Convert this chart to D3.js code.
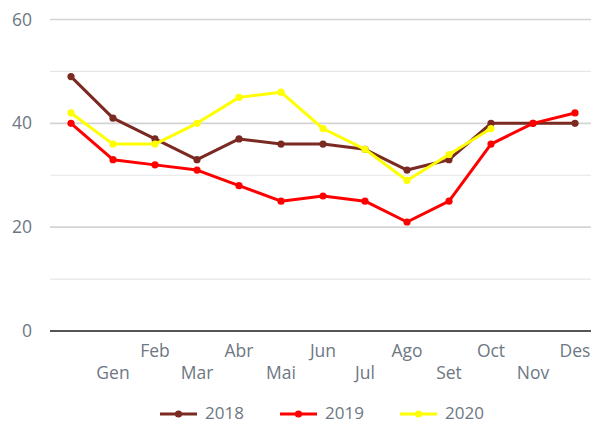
<!DOCTYPE html>
<html>
<head>
<meta charset="utf-8">
<script src="https://cdn.jsdelivr.net/npm/d3@7"></script>
<style>
  html, body { margin: 0; padding: 0; background: #ffffff; }
  svg { display: block; font-family: "Open Sans", sans-serif; }
</style>
</head>
<body>
<svg id="chart" width="591" height="424"></svg>
<script>
// Month labels (first slot carries no label)
const months = ["", "Gen", "Feb", "Mar", "Abr", "Mai", "Jun", "Jul", "Ago", "Set", "Oct", "Nov", "Des"];
const values2018 = [49, 41, 37, 33, 37, 36, 36, 35, 31, 33, 40, 40, 40];
const values2019 = [40, 33, 32, 31, 28, 25, 26, 25, 21, 25, 36, 40, 42];
const values2020 = [42, 36, 36, 40, 45, 46, 39, 35, 29, 34, 39, null, null];
const seriesNames = ["2018", "2019", "2020"];
const seriesColors = ["#7b2a22", "#ff0000", "#ffff00"];
const yTicks = [0, 20, 40, 60];
const yGrid = [0, 10, 20, 30, 40, 50, 60];

const series = [values2018, values2019, values2020].map((vals, i) => ({
  name: seriesNames[i], color: seriesColors[i], values: vals
}));

const svg = d3.select("#chart");
const margin = { left: 50, right: -5, top: 19.5, bottom: 93 };
const W = 591, H = 424;
const fontSize = "17.5px";
const textColor = "#6e7783";

const x = d3.scalePoint()
  .domain(d3.range(months.length))
  .range([margin.left, W - margin.right])
  .padding(0.5);

const y = d3.scaleLinear()
  .domain([0, 60])
  .range([H - margin.bottom, margin.top]);

// Horizontal grid
svg.append("g")
  .selectAll("line")
  .data(yGrid.filter(d => d !== 0))
  .join("line")
  .attr("x1", margin.left)
  .attr("x2", W)
  .attr("y1", d => y(d))
  .attr("y2", d => y(d))
  .attr("stroke", d => d % 20 === 0 ? "#d4d4d4" : "#e6e6e6")
  .attr("stroke-width", d => d % 20 === 0 ? 1.6 : 1.2);

// Y axis labels
const yAxis = d3.axisLeft(y).tickValues(yTicks).tickSize(0).tickPadding(18);
svg.append("g")
  .attr("transform", `translate(${margin.left},0)`)
  .call(yAxis)
  .call(g => g.select(".domain").remove())
  .call(g => g.selectAll("text")
    .attr("fill", textColor)
    .style("font-size", fontSize)
    .style("font-family", "'Open Sans', sans-serif"));

// Baseline
svg.append("line")
  .attr("x1", margin.left).attr("x2", W)
  .attr("y1", y(0)).attr("y2", y(0))
  .attr("stroke", "#555555").attr("stroke-width", 2);

// X axis month labels, staggered on two rows
svg.append("g")
  .selectAll("text")
  .data(months.slice(1).map((m, i) => ({ m, i: i + 1 })))
  .join("text")
  .attr("x", d => x(d.i - 1) + x.step())
  .attr("y", d => y(0) + (d.i % 2 === 0 ? 26 : 48))
  .attr("text-anchor", "middle")
  .attr("fill", textColor)
  .style("font-size", fontSize)
  .text(d => d.m);

// Series lines and markers
const line = d3.line()
  .defined(d => d.v !== null)
  .x(d => x(d.i))
  .y(d => y(d.v));

series.forEach(s => {
  const pts = s.values.map((v, i) => ({ v, i }));
  svg.append("path")
    .datum(pts)
    .attr("fill", "none")
    .attr("stroke", s.color)
    .attr("stroke-width", 3)
    .attr("stroke-linejoin", "round")
    .attr("d", line);
  svg.append("g")
    .selectAll("circle")
    .data(pts.filter(d => d.v !== null))
    .join("circle")
    .attr("cx", d => x(d.i))
    .attr("cy", d => y(d.v))
    .attr("r", 3.6)
    .attr("fill", s.color);
});

// Legend
const legendX = [160, 280, 400];
const legend = svg.append("g").attr("transform", "translate(0,414)");
series.forEach((s, i) => {
  const g = legend.append("g").attr("transform", `translate(${legendX[i]},0)`);
  g.append("line").attr("x1", 0).attr("x2", 37).attr("y1", 0).attr("y2", 0)
    .attr("stroke", s.color).attr("stroke-width", 3);
  g.append("circle").attr("cx", 18.5).attr("cy", 0).attr("r", 3.6).attr("fill", s.color);
  g.append("text").attr("x", 45).attr("y", 5)
    .attr("fill", textColor).style("font-size", "17px").text(s.name);
});
</script>
</body>
</html>
